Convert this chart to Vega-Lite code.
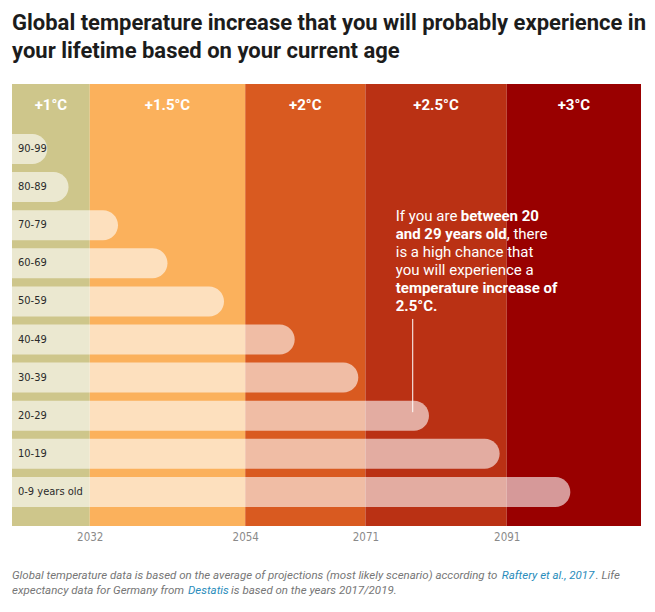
{
  "$schema": "https://vega.github.io/schema/vega-lite/v6.json",
  "width": 629,
  "height": 442,
  "autosize": {"type": "none"},
  "padding": {"left": 12, "top": 84, "right": 14, "bottom": 86},
  "background": "white",
  "title": {
    "text": ["Global temperature increase that you will probably experience in", "your lifetime based on your current age"],
    "anchor": "start",
    "font": "Roboto",
    "fontSize": 22,
    "fontWeight": "bold",
    "color": "#1c1c1c",
    "lineHeight": 28,
    "offset": 21
  },
  "config": {"view": {"stroke": null}, "font": "Roboto"},
  "datasets": {
    "bands": [
      {"label": "+1°C", "from": 2021, "to": 2032},
      {"label": "+1.5°C", "from": 2032, "to": 2054},
      {"label": "+2°C", "from": 2054, "to": 2071},
      {"label": "+2.5°C", "from": 2071, "to": 2091},
      {"label": "+3°C", "from": 2091, "to": 2110}
    ],
    "ages": [
      {"age": "90-99", "end": 2026},
      {"age": "80-89", "end": 2029},
      {"age": "70-79", "end": 2036},
      {"age": "60-69", "end": 2043},
      {"age": "50-59", "end": 2051},
      {"age": "40-49", "end": 2061},
      {"age": "30-39", "end": 2070},
      {"age": "20-29", "end": 2080},
      {"age": "10-19", "end": 2090},
      {"age": "0-9 years old", "end": 2100}
    ],
    "note": [
      {"line": 1, "x": 2075.3, "text": "If you are", "bold": false},
      {"line": 1, "x": 2084.5, "text": "between 20", "bold": true},
      {"line": 2, "x": 2075.3, "text": "and 29 years old", "bold": true},
      {"line": 2, "x": 2091.0, "text": ", there", "bold": false},
      {"line": 3, "x": 2075.3, "text": "is a high chance that", "bold": false},
      {"line": 4, "x": 2075.3, "text": "you will experience a", "bold": false},
      {"line": 5, "x": 2075.3, "text": "temperature increase of", "bold": true},
      {"line": 6, "x": 2075.3, "text": "2.5°C.", "bold": true}
    ],
    "pointer": [
      {"from_line": 6.72, "to_line": 11.9, "year": 2077.7}
    ],
    "footnote": [
      {"line": 1, "x": 2021, "text": "Global temperature data is based on the average of projections (most likely scenario) according to", "link": false},
      {"line": 1, "x": 2090.3, "text": "Raftery et al., 2017", "link": true},
      {"line": 1, "x": 2103.6, "text": ". Life", "link": false},
      {"line": 2, "x": 2021, "text": "expectancy data for Germany from", "link": false},
      {"line": 2, "x": 2045.9, "text": "Destatis", "link": true},
      {"line": 2, "x": 2052.0, "text": "is based on the years 2017/2019.", "link": false}
    ]
  },
  "layer": [
    {
      "data": {"name": "bands"},
      "mark": {"type": "rect"},
      "encoding": {
        "x": {
          "field": "from", "type": "quantitative",
          "scale": {"domain": [2021, 2110], "nice": false, "zero": false},
          "axis": {"values": [2032, 2054, 2071, 2091], "domain": false, "ticks": false, "grid": false, "labelColor": "#8a8a8a", "labelFontSize": 11.5, "labelFont": "DejaVu Sans Condensed, Roboto", "labelPadding": 5, "title": null, "format": "d"}
        },
        "x2": {"field": "to"},
        "color": {
          "field": "label", "type": "nominal",
          "scale": {"domain": ["+1°C", "+1.5°C", "+2°C", "+2.5°C", "+3°C"], "range": ["#cec68b", "#fbb15c", "#d95a20", "#ba3114", "#990000"]},
          "legend": null
        }
      }
    },
    {
      "data": {"name": "bands"},
      "transform": [{"fold": ["from", "to"], "as": ["edge", "year"]}],
      "mark": {"type": "text", "align": "center", "baseline": "middle", "dy": -6, "font": "Roboto", "fontSize": 15, "fontWeight": "bold", "color": "white"},
      "encoding": {
        "x": {"aggregate": "mean", "field": "year", "type": "quantitative", "axis": {"values": [2032, 2054, 2071, 2091], "domain": false, "ticks": false, "grid": false, "labelColor": "#8a8a8a", "labelFontSize": 11.5, "labelFont": "DejaVu Sans Condensed, Roboto", "labelPadding": 5, "title": null, "format": "d"}},
        "y": {
          "datum": "header", "type": "nominal",
          "scale": {"type": "band", "domain": ["header", "90-99", "80-89", "70-79", "60-69", "50-59", "40-49", "30-39", "20-29", "10-19", "0-9 years old"], "paddingInner": 0.213, "paddingOuter": 0.407, "align": 0.384},
          "axis": null
        },
        "text": {"field": "label"}
      }
    },
    {
      "data": {"name": "ages"},
      "mark": {"type": "bar", "color": "white", "opacity": 0.6, "cornerRadiusTopRight": 15, "cornerRadiusBottomRight": 15},
      "encoding": {
        "y": {
          "field": "age", "type": "nominal", "sort": null,
          "scale": {"type": "band", "domain": ["header", "90-99", "80-89", "70-79", "60-69", "50-59", "40-49", "30-39", "20-29", "10-19", "0-9 years old"], "paddingInner": 0.213, "paddingOuter": 0.407, "align": 0.384},
          "axis": null
        },
        "x": {"field": "end", "type": "quantitative", "axis": {"values": [2032, 2054, 2071, 2091], "domain": false, "ticks": false, "grid": false, "labelColor": "#8a8a8a", "labelFontSize": 11.5, "labelFont": "DejaVu Sans Condensed, Roboto", "labelPadding": 5, "title": null, "format": "d"}},
        "x2": {"datum": 2021}
      }
    },
    {
      "data": {"name": "ages"},
      "mark": {"type": "text", "align": "left", "baseline": "middle", "dx": 6, "font": "DejaVu Sans Condensed, Roboto", "fontSize": 11, "fontWeight": 500, "color": "#2a2a2a"},
      "encoding": {
        "y": {
          "field": "age", "type": "nominal", "sort": null,
          "scale": {"type": "band", "domain": ["header", "90-99", "80-89", "70-79", "60-69", "50-59", "40-49", "30-39", "20-29", "10-19", "0-9 years old"], "paddingInner": 0.213, "paddingOuter": 0.407, "align": 0.384},
          "axis": null
        },
        "x": {"datum": 2021, "type": "quantitative", "axis": {"values": [2032, 2054, 2071, 2091], "domain": false, "ticks": false, "grid": false, "labelColor": "#8a8a8a", "labelFontSize": 11.5, "labelFont": "DejaVu Sans Condensed, Roboto", "labelPadding": 5, "title": null, "format": "d"}},
        "text": {"field": "age"}
      }
    },
    {
      "data": {"name": "note"},
      "transform": [{"filter": "datum.bold == false"}],
      "mark": {"type": "text", "align": "left", "baseline": "middle", "font": "Roboto", "fontSize": 15, "color": "white"},
      "encoding": {
        "x": {"field": "x", "type": "quantitative", "axis": {"values": [2032, 2054, 2071, 2091], "domain": false, "ticks": false, "grid": false, "labelColor": "#8a8a8a", "labelFontSize": 11.5, "labelFont": "DejaVu Sans Condensed, Roboto", "labelPadding": 5, "title": null, "format": "d"}},
        "y": {"field": "line", "type": "quantitative", "scale": {"domain": [-6.333, 18.222], "reverse": true, "nice": false, "zero": false}, "axis": null},
        "text": {"field": "text"}
      }
    },
    {
      "data": {"name": "note"},
      "transform": [{"filter": "datum.bold == true"}],
      "mark": {"type": "text", "align": "left", "baseline": "middle", "font": "Roboto", "fontSize": 15, "fontWeight": "bold", "color": "white"},
      "encoding": {
        "x": {"field": "x", "type": "quantitative", "axis": {"values": [2032, 2054, 2071, 2091], "domain": false, "ticks": false, "grid": false, "labelColor": "#8a8a8a", "labelFontSize": 11.5, "labelFont": "DejaVu Sans Condensed, Roboto", "labelPadding": 5, "title": null, "format": "d"}},
        "y": {"field": "line", "type": "quantitative", "scale": {"domain": [-6.333, 18.222], "reverse": true, "nice": false, "zero": false}, "axis": null},
        "text": {"field": "text"}
      }
    },
    {
      "data": {"name": "pointer"},
      "mark": {"type": "rule", "color": "white", "strokeWidth": 1},
      "encoding": {
        "x": {"field": "year", "type": "quantitative", "axis": {"values": [2032, 2054, 2071, 2091], "domain": false, "ticks": false, "grid": false, "labelColor": "#8a8a8a", "labelFontSize": 11.5, "labelFont": "DejaVu Sans Condensed, Roboto", "labelPadding": 5, "title": null, "format": "d"}},
        "y": {"field": "from_line", "type": "quantitative", "scale": {"domain": [-6.333, 18.222], "reverse": true, "nice": false, "zero": false}, "axis": null},
        "y2": {"field": "to_line"}
      }
    },
    {
      "data": {"name": "footnote"},
      "transform": [{"filter": "datum.link == false"}],
      "mark": {"type": "text", "align": "left", "baseline": "middle", "font": "Roboto", "fontSize": 11.5, "fontStyle": "italic", "color": "#767676"},
      "encoding": {
        "x": {"field": "x", "type": "quantitative", "axis": {"values": [2032, 2054, 2071, 2091], "domain": false, "ticks": false, "grid": false, "labelColor": "#8a8a8a", "labelFontSize": 11.5, "labelFont": "DejaVu Sans Condensed, Roboto", "labelPadding": 5, "title": null, "format": "d"}},
        "y": {"field": "line", "type": "quantitative", "scale": {"domain": [-31.8, -2.333], "reverse": true, "nice": false, "zero": false}, "axis": null},
        "text": {"field": "text"}
      }
    },
    {
      "data": {"name": "footnote"},
      "transform": [{"filter": "datum.link == true"}],
      "mark": {"type": "text", "align": "left", "baseline": "middle", "font": "Roboto", "fontSize": 11.5, "fontStyle": "italic", "color": "#2a8cbb"},
      "encoding": {
        "x": {"field": "x", "type": "quantitative", "axis": {"values": [2032, 2054, 2071, 2091], "domain": false, "ticks": false, "grid": false, "labelColor": "#8a8a8a", "labelFontSize": 11.5, "labelFont": "DejaVu Sans Condensed, Roboto", "labelPadding": 5, "title": null, "format": "d"}},
        "y": {"field": "line", "type": "quantitative", "scale": {"domain": [-31.8, -2.333], "reverse": true, "nice": false, "zero": false}, "axis": null},
        "text": {"field": "text"}
      }
    }
  ],
  "resolve": {"scale": {"y": "independent"}}
}
